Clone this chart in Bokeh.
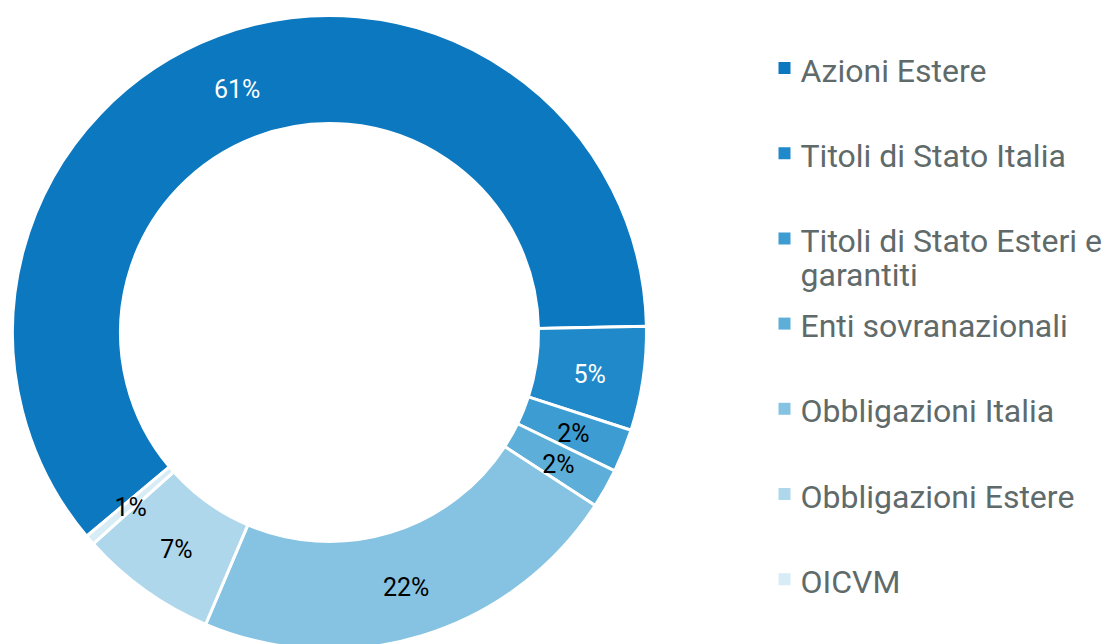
import math
from bokeh.plotting import figure
from bokeh.models import Range1d, ColumnDataSource
from bokeh.core.properties import value
from bokeh.embed import file_html
from bokeh.resources import INLINE

# ---- data ----
categories = ["Azioni Estere", "Titoli di Stato Italia", "Titoli di Stato Esteri e garantiti",
              "Enti sovranazionali", "Obbligazioni Italia", "Obbligazioni Estere", "OICVM"]
shares = [60.8, 5.3, 2.2, 2.0, 22.2, 7.0, 0.5]
pct_labels = ["61%", "5%", "2%", "2%", "22%", "7%", "1%"]
colors = ["#0B78BF", "#2089C9", "#3D9CD2", "#5DAFD9", "#86C3E2", "#AFD7EB", "#D8ECF6"]
label_colors = ["white", "white", "black", "black", "black", "black", "black"]
legend_lines = [["Azioni Estere"], ["Titoli di Stato Italia"], ["Titoli di Stato Esteri e", "garantiti"],
                ["Enti sovranazionali"], ["Obbligazioni Italia"], ["Obbligazioni Estere"], ["OICVM"]]

# ---- layout ----
W, H = 1107, 644
PAGE_H = 644
def Y(py):
    return PAGE_H - py

cx, cy = 329, Y(332)
R_out, R_in = 317, 209
start_deg = 220.0
FONT = "Roboto"

p = figure(width=W, height=H, output_backend="svg", toolbar_location=None,
           x_range=Range1d(0, W), y_range=Range1d(PAGE_H - H, PAGE_H),
           min_border=0, outline_line_color=None, background_fill_color="white",
           border_fill_color="white")
p.axis.visible = False
p.grid.visible = False

total = sum(shares)
starts, ends, lx, ly = [], [], [], []
cum = 0.0
for s in shares:
    a0 = start_deg - cum / total * 360.0
    a1 = a0 - s / total * 360.0
    starts.append(math.radians(a0))
    ends.append(math.radians(a1))
    mid = math.radians((a0 + a1) / 2)
    rm = (R_out + R_in) / 2
    lx.append(cx + rm * math.cos(mid))
    ly.append(cy + rm * math.sin(mid) - 3)
    cum += s

src = ColumnDataSource(dict(start=starts, end=ends, color=colors, lx=lx, ly=ly,
                            lab=pct_labels, lcol=label_colors))
p.annular_wedge(x=cx, y=cy, inner_radius=R_in, outer_radius=R_out,
                start_angle="start", end_angle="end", direction="clock",
                fill_color="color", line_color="white", line_width=3, source=src)
p.text(x="lx", y="ly", text="lab", text_color="lcol", text_align="center",
       text_baseline="middle", text_font=value(FONT), text_font_size="25px", source=src)

# ---- legend ----
sq_x = 784
leg_y0 = 67.5
leg_step = 85.2
txt_x = 800
line_gap = 34
sx, sy, tx, ty, tt = [], [], [], [], []
for i, lines in enumerate(legend_lines):
    py = leg_y0 + i * leg_step
    sx.append(sq_x)
    sy.append(Y(py))
    for j, ln in enumerate(lines):
        tx.append(txt_x)
        ty.append(Y(py + 2.5 + j * line_gap))
        tt.append(ln)

p.rect(x=sx, y=sy, width=12, height=12, fill_color=colors, line_color=None)
p.text(x=tx, y=ty, text=tt, text_color="#5F6A6A", text_align="left", text_baseline="middle",
       text_font=value(FONT), text_font_size="32px")

open("out.html", "w").write(file_html(p, INLINE))
